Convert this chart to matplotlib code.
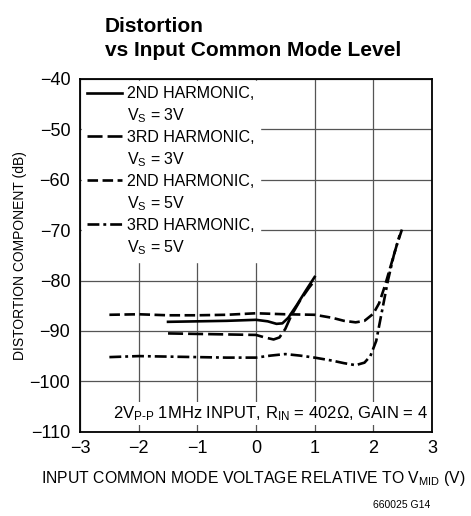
import matplotlib
matplotlib.use('Agg')
import matplotlib.pyplot as plt
from matplotlib.lines import Line2D

plt.rcParams['font.family'] = ['Liberation Sans', 'DejaVu Sans']
plt.rcParams['mathtext.fontset'] = 'custom'
plt.rcParams['mathtext.rm'] = 'Liberation Sans'
plt.rcParams['mathtext.it'] = 'Liberation Sans'

# data
x_2nd_3v = [-1.5, -1.0, -0.5, 0.0, 0.2, 0.35, 0.45, 0.55, 0.7, 0.85, 1.0]
y_2nd_3v = [-88.2, -88.1, -88.0, -87.8, -88.1, -88.6, -88.5, -87.4, -84.8, -82.0, -79.3]

x_3rd_3v = [-1.5, -1.0, -0.5, 0.0, 0.15, 0.3, 0.4, 0.5, 0.6, 0.75, 0.9, 1.0]
y_3rd_3v = [-90.5, -90.6, -90.7, -90.8, -91.3, -91.7, -91.3, -89.6, -87.0, -84.0, -81.5, -80.0]

x_2nd_5v = [-2.5, -2.0, -1.5, -1.0, -0.5, 0.0, 0.5, 1.0, 1.3, 1.5, 1.7, 1.85, 2.0, 2.1, 2.2, 2.3, 2.4, 2.5]
y_2nd_5v = [-86.8, -86.7, -86.9, -86.9, -86.8, -86.5, -86.7, -86.8, -87.4, -88.0, -88.3, -88.0, -86.6, -84.5, -81.0, -77.0, -73.0, -69.5]

x_3rd_5v = [-2.5, -2.0, -1.5, -1.0, -0.5, 0.0, 0.25, 0.5, 0.75, 1.0, 1.3, 1.5, 1.7, 1.85, 1.95, 2.05, 2.15, 2.25, 2.35, 2.45]
y_3rd_5v = [-95.2, -95.0, -95.1, -95.2, -95.3, -95.3, -94.9, -94.6, -94.9, -95.3, -95.9, -96.4, -96.8, -96.3, -95.0, -92.0, -86.0, -80.0, -75.0, -71.0]

harmonics = ['2ND HARMONIC,', '3RD HARMONIC,', '2ND HARMONIC,', '3RD HARMONIC,']
supplies = ['3V', '3V', '5V', '5V']

x_ticks = [-3, -2, -1, 0, 1, 2, 3]
y_ticks = [-40, -50, -60, -70, -80, -90, -100, -110]

styles = ['-', (0, (5.7, 1.9)), (0, (4.0, 1.7)), (0, (4.5, 1.5, 1.1, 1.5))]

fig = plt.figure(figsize=(4.71, 5.16), dpi=100)
ax = fig.add_axes([0.170, 0.1634, 0.747, 0.6836])

lw = 1.9
series = [(x_2nd_3v, y_2nd_3v), (x_3rd_3v, y_3rd_3v), (x_2nd_5v, y_2nd_5v), (x_3rd_5v, y_3rd_5v)]
for (xs, ys), ls in zip(series, styles):
    ax.plot(xs, ys, color='black', lw=lw, ls=ls)

ax.set_xlim(-3, 3)
ax.set_ylim(-110, -40)
ax.set_xticks(x_ticks)
ax.set_yticks(y_ticks)
ax.set_xticklabels(['\u2212' + str(-t) if t < 0 else str(t) for t in x_ticks])
ax.set_yticklabels(['\u2212' + str(-t) for t in y_ticks])
ax.tick_params(length=0, labelsize=13, colors='black', pad=6)
ax.tick_params(axis='y', pad=7)
ax.grid(True, color='#555555', lw=0.9)
for s in ax.spines.values():
    s.set_linewidth(1.3)

ax.set_xlabel('INPUT COMMON MODE VOLTAGE RELATIVE TO $\\mathregular{V_{MID}}$ (V)', fontsize=11.3)
ax.xaxis.set_label_coords(0.493, -0.105)
ax.set_ylabel('DISTORTION COMPONENT (dB)', fontsize=10)
ax.yaxis.set_label_coords(-0.15, 0.5)

# legend: handle sits on the first line of each two-line entry
handles, labels = [], []
for h, v, ls in zip(harmonics, supplies, styles):
    handles.append(Line2D([], [], color='black', lw=lw, ls=ls))
    labels.append(h)
    handles.append(Line2D([], [], color='none'))
    labels.append('$\\mathregular{V_S}$ = ' + v)
leg = ax.legend(handles, labels, loc='upper left', fontsize=11.5, frameon=True, fancybox=False,
                handlelength=2.2, handletextpad=0.3, borderpad=0.35,
                labelspacing=0.32, borderaxespad=0.1)
leg.get_frame().set_edgecolor('white')
leg.get_frame().set_facecolor('white')
leg.get_frame().set_alpha(1)

ax.text(2.93, -108.3, '2$\\mathregular{V_{P\\text{-}P}}$ 1MHz INPUT, $\\mathregular{R_{IN}}$ = 402\u03a9, GAIN = 4',
        ha='right', va='bottom', fontsize=12,
        bbox=dict(facecolor='white', edgecolor='none', pad=1.5))

fig.text(0.222, 0.884, 'Distortion\nvs Input Common Mode Level', fontsize=15,
         fontweight='bold', ha='left', va='bottom', linespacing=1.3)
fig.text(0.913, 0.012, '660025 G14', fontsize=7.5, ha='right', va='bottom')

fig.savefig('out.png', dpi=100)
